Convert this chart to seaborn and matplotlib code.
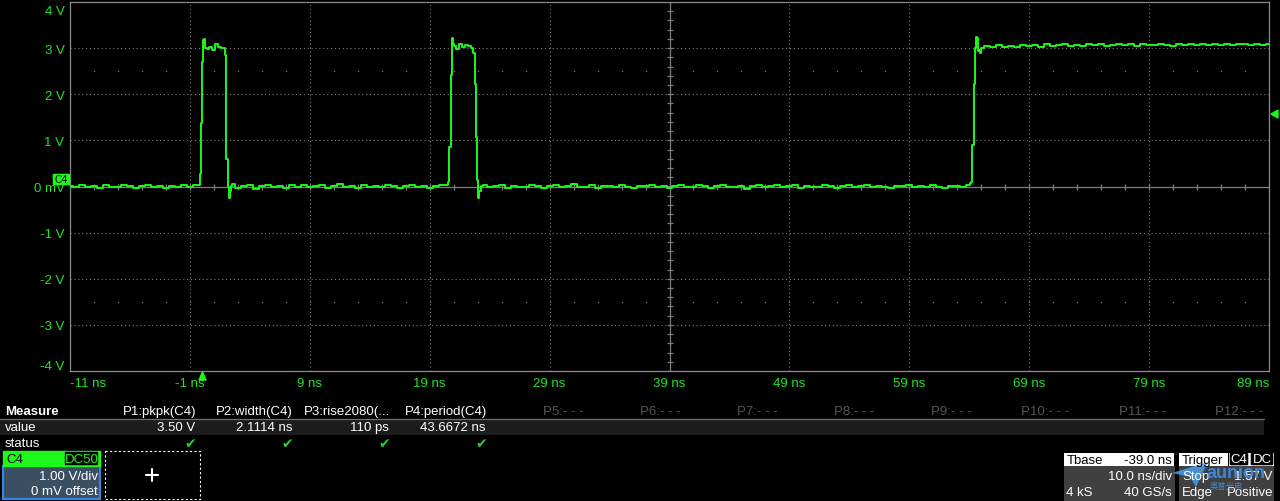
import numpy as np
import pandas as pd
import matplotlib
matplotlib.use("Agg")
import matplotlib.pyplot as plt
import matplotlib.patches as mpatches
import matplotlib.transforms as mtrans
import seaborn as sns

sns.set_style("dark")
plt.rcParams['font.family'] = ['Liberation Sans', 'DejaVu Sans', 'Noto Sans CJK SC']

# ---- axis labels ----
x_ticks = [-11, -1, 9, 19, 29, 39, 49, 59, 69, 79, 89]
x_labels = ['-11 ns', '-1 ns', '9 ns', '19 ns', '29 ns', '39 ns', '49 ns',
            '59 ns', '69 ns', '79 ns', '89 ns']
y_ticks = [4, 3, 2, 1, 0, -1, -2, -3, -4]
y_labels = ['4 V', '3 V', '2 V', '1 V', '0 mV', '-1 V', '-2 V', '-3 V', '-4 V']

# ---- trace (ns, V) ----
# flat parts sampled every 0.5 ns
base_a_start = -11.0
base_a = [0.01, -0.02, 0.03, -0.01, 0.02, -0.03, 0.04, 0.0, -0.02, 0.03, 0.01,
          -0.03, 0.02, 0.04, -0.01, 0.01, -0.03, 0.02, 0.0, 0.03, -0.02, 0.04]
base_b_start = 2.5
base_b = [0.05, -0.03, 0.02, 0.04, -0.05, 0.01, 0.03, -0.02, 0.02, -0.04, 0.03, 0.0,
          0.04, -0.02, 0.01, 0.03, -0.03, 0.02, 0.05, -0.01, 0.02, -0.03, 0.03, 0.0,
          0.02, -0.02, 0.04, 0.01, -0.03, 0.02, 0.03, -0.01, 0.02, -0.04, 0.01, 0.03]
base_c_start = 23.5
base_c = [0.03, -0.02, 0.01, 0.04, -0.03, 0.02, 0.0, -0.02, 0.03, 0.01,
          -0.04, 0.02, 0.03, -0.01, 0.02, 0.05, -0.02, 0.0, 0.03, -0.03,
          0.01, 0.02, -0.02, 0.04, 0.0, -0.03, 0.02, 0.01, 0.03, -0.02,
          0.02, -0.04, 0.01, 0.03, 0.0, -0.02, 0.04, 0.01, -0.03, 0.02,
          0.03, -0.01, 0.0, 0.02, -0.05, 0.01, 0.03, -0.02, 0.02, 0.04,
          -0.02, 0.01, 0.03, -0.03, 0.02, 0.0, -0.02, 0.03, 0.01, -0.04,
          0.02, 0.03, -0.01, 0.01, 0.04, -0.02, 0.02, 0.0, -0.03, 0.02,
          0.01, 0.03, -0.02, 0.02, -0.01, 0.04, 0.0, -0.03, 0.02, 0.01,
          -0.02, 0.03]
top_d_start = 65.0
top_d = [3.0, 3.04, 3.02, 3.06, 3.03, 3.05, 3.02, 3.07, 3.04, 3.06,
         3.03, 3.08, 3.05, 3.06, 3.09, 3.05, 3.07, 3.04, 3.08, 3.06,
         3.09, 3.05, 3.07, 3.1, 3.06, 3.08, 3.05, 3.09, 3.07, 3.06,
         3.1, 3.07, 3.05, 3.08, 3.06, 3.09, 3.07, 3.1, 3.06, 3.08,
         3.07, 3.09, 3.06, 3.1, 3.08, 3.07, 3.09, 3.06, 3.08]

# edges and pulse tops
pulse1_t = [-0.17, -0.08, 0.0, 0.08, 0.17, 0.25, 0.33, 0.5, 0.75, 1.0, 1.25, 1.5,
            1.75, 1.9, 1.97, 2.0, 2.08, 2.22, 2.27, 2.36, 2.39, 2.47]
pulse1_v = [0.03, 0.28, 1.37, 2.7, 3.17, 3.2, 3.0, 2.98, 3.02, 2.97, 3.08, 3.03,
            3.0, 3.01, 2.85, 1.8, 0.6, 0.0, -0.26, -0.26, -0.1, 0.02]
pulse2_t = [20.5, 20.58, 20.69, 20.78, 20.86, 20.94, 21.02, 21.1, 21.35, 21.6, 21.85,
            22.1, 22.35, 22.6, 22.69, 22.81, 22.89, 22.97, 23.02, 23.12, 23.17, 23.31]
pulse2_v = [0.04, 0.1, 0.86, 2.41, 3.03, 3.21, 3.1, 3.05, 2.98, 3.08, 3.02,
            3.06, 3.04, 3.0, 2.9, 2.23, 1.08, 0.14, -0.26, -0.26, -0.1, 0.02]
rise3_t = [64.1, 64.17, 64.33, 64.44, 64.53, 64.61, 64.72, 64.78, 64.86, 64.92]
rise3_v = [0.08, 0.1, 0.9, 2.23, 3.0, 3.25, 3.22, 2.93, 2.97, 2.9]

trig_level = 1.57


def flat(start, vals):
    return [start + 0.5 * i for i in range(len(vals))], list(vals)


parts = [flat(base_a_start, base_a), (pulse1_t, pulse1_v),
         flat(base_b_start, base_b), (pulse2_t, pulse2_v),
         flat(base_c_start, base_c), (rise3_t, rise3_v),
         flat(top_d_start, top_d)]
trace = pd.DataFrame({'t': sum([p[0] for p in parts], []),
                      'v': sum([p[1] for p in parts], [])})

GREEN = '#1cf71c'
LABEL = '#22e622'
GRID = '#7c7c7c'

fig = plt.figure(figsize=(12.8, 5.02), dpi=100, facecolor='black')
ax = fig.add_axes([70 / 1280, 1 - 372 / 502, 1199 / 1280, 369 / 502])
ax.set_facecolor('black')

# grid: dotted divisions, solid centre cross with small ticks
for t in x_ticks[1:-1]:
    if t != 39:
        ax.axvline(t, color=GRID, lw=0.8, ls=(0, (1, 2.5)), zorder=1)
for v in y_ticks[1:-1]:
    if v != 0:
        ax.axhline(v, color=GRID, lw=0.8, ls=(0, (1, 2.5)), zorder=1)
ax.axvline(39, color=GRID, lw=0.9, zorder=1)
ax.axhline(0, color=GRID, lw=0.9, zorder=1)
ax.plot(np.arange(-11, 89.1, 2), np.zeros(51), ls='none', marker='|',
        ms=4, mew=0.9, color=GRID, zorder=1)
ax.plot(np.full(41, 39), np.arange(-4, 4.01, 0.2), ls='none', marker='_',
        ms=5, mew=0.9, color=GRID, zorder=1)
for v in (2.5, -2.5):
    ax.plot(np.arange(-9, 89, 2), np.full(49, v), ls='none', marker='s',
            ms=0.9, mew=0, color=GRID, zorder=1)

sns.lineplot(data=trace, x='t', y='v', ax=ax, color=GREEN, lw=1.4,
             estimator=None, sort=False, drawstyle='steps-mid', zorder=3)

ax.set_xlim(-11, 89)
ax.set_ylim(-4, 4)
ax.set_xticks(x_ticks)
ax.set_xticklabels(x_labels)
ax.set_yticks(y_ticks)
ax.set_yticklabels(y_labels)
ax.tick_params(length=0, colors=LABEL, labelsize=9.5)
ax.tick_params(axis='x', pad=4)
ax.tick_params(axis='y', pad=4)
xl = ax.get_xticklabels()
xl[0].set_ha('left')
xl[-1].set_ha('right')
yl = ax.get_yticklabels()
yl[0].set_transform(yl[0].get_transform() +
                    mtrans.ScaledTranslation(0, -8 / 100, fig.dpi_scale_trans))
yl[-1].set_transform(yl[-1].get_transform() +
                     mtrans.ScaledTranslation(0, 6 / 100, fig.dpi_scale_trans))
ax.set_xlabel('')
ax.set_ylabel('')
ax.grid(False)
for s in ax.spines.values():
    s.set_color('#8a8a8a')
    s.set_linewidth(0.9)

# overlay in pixel coordinates for the panel below and the markers
ov = fig.add_axes([0, 0, 1, 1], facecolor='none')
ov.set_xlim(0, 1280)
ov.set_ylim(502, 0)
ov.axis('off')

# channel tag and markers
ov.add_patch(mpatches.FancyBboxPatch((54, 176), 15, 9, boxstyle='round,pad=0.6',
                                     fc=GREEN, ec=GREEN))
ov.text(61.5, 180.5, 'C4', color='black', fontsize=7.5, ha='center', va='center')
ov.add_patch(mpatches.Polygon([(199, 381), (206, 381), (202.5, 373)], color=GREEN))
ty = 187.5 - trig_level * 46.125
ov.add_patch(mpatches.Polygon([(1278, ty - 4), (1278, ty + 4), (1271, ty)], color=GREEN))

# measurement table
fs = 9.5
ov.text(5, 412, 'Measure', color='white', fontsize=fs, fontweight='bold', va='center')
meas_names = ['P1:pkpk(C4)', 'P2:width(C4)', 'P3:rise2080(...', 'P4:period(C4)',
              'P5:- - -', 'P6:- - -', 'P7:- - -', 'P8:- - -', 'P9:- - -',
              'P10:- - -', 'P11:- - -', 'P12:- - -']
meas_values = ['3.50 V', '2.1114 ns', '110 ps', '43.6672 ns']
col_right = [196 + 97 * i for i in range(12)]
ov.add_patch(mpatches.Rectangle((0, 420), 1264, 16, fc='#1c1c1c', ec='none'))
ov.plot([0, 1264], [419.5, 419.5], color='#707070', lw=0.9)
for i, name in enumerate(meas_names):
    c = 'white' if i < 4 else '#555555'
    ov.text(col_right[i], 412, name, color=c, fontsize=fs, ha='right', va='center')
for i, val in enumerate(meas_values):
    ov.text(col_right[i] - 1, 428, val, color='white', fontsize=fs, ha='right', va='center')
    ov.text(col_right[i] - 6, 444, '\u2714', color='#2ccf2c', fontsize=10,
            ha='center', va='center', family='DejaVu Sans')
ov.text(5, 428, 'value', color='white', fontsize=fs, va='center')
ov.text(5, 444, 'status', color='white', fontsize=fs, va='center')

# channel box
ov.add_patch(mpatches.Rectangle((3, 467), 97, 33, fc='#3b4f63', ec='#2f8ae4', lw=1.5))
ov.add_patch(mpatches.Rectangle((3, 452), 97, 15, fc=GREEN, ec=GREEN))
ov.add_patch(mpatches.FancyBboxPatch((66, 454), 31, 11, boxstyle='round,pad=0.5',
                                     fc='black', ec='black'))
ov.text(6, 460, 'C4', color='black', fontsize=fs, va='center')
ov.text(81.5, 460, 'DC50', color=GREEN, fontsize=fs, ha='center', va='center')
ov.text(98, 477, '1.00 V/div', color='white', fontsize=fs, ha='right', va='center')
ov.text(98, 492, '0 mV offset', color='white', fontsize=fs, ha='right', va='center')

# empty slot
ov.add_patch(mpatches.Rectangle((105, 452), 95, 48, fc='none', ec='white',
                                lw=0.8, ls=(0, (2, 2))))
ov.plot([146, 158], [476, 476], color='white', lw=1.5)
ov.plot([152, 152], [470, 482], color='white', lw=1.5)

# timebase box
ov.add_patch(mpatches.Rectangle((1064, 467), 111, 35, fc='#404040', ec='none'))
ov.add_patch(mpatches.Rectangle((1064, 454), 110, 13, fc='white', ec='none'))
ov.text(1067, 461, 'Tbase', color='black', fontsize=fs, va='center')
ov.text(1172, 461, '-39.0 ns', color='black', fontsize=fs, ha='right', va='center')
ov.text(1172, 477, '10.0 ns/div', color='white', fontsize=fs, ha='right', va='center')
ov.text(1066, 493, '4 kS', color='white', fontsize=fs, va='center')
ov.text(1172, 493, '40 GS/s', color='white', fontsize=fs, ha='right', va='center')

# trigger box
ov.add_patch(mpatches.Rectangle((1179, 467), 95, 35, fc='#404040', ec='none'))
ov.add_patch(mpatches.Rectangle((1179, 454), 49, 13, fc='white', ec='none'))
ov.add_patch(mpatches.Rectangle((1229, 454), 45, 13, fc='white', ec='none'))
ov.add_patch(mpatches.FancyBboxPatch((1231, 455), 16, 10, boxstyle='round,pad=0.6',
                                     fc='black', ec='black'))
ov.add_patch(mpatches.FancyBboxPatch((1252, 455), 20, 10, boxstyle='round,pad=0.6',
                                     fc='black', ec='black'))
ov.text(1182, 461, 'Trigger', color='black', fontsize=fs, va='center')
ov.text(1239, 460, 'C4', color='white', fontsize=fs, ha='center', va='center')
ov.text(1262, 460, 'DC', color='white', fontsize=fs, ha='center', va='center')
ov.text(1182, 477, 'Stop', color='white', fontsize=fs, va='center')
ov.text(1272, 477, '1.57 V', color='white', fontsize=fs, ha='right', va='center')
ov.text(1182, 493, 'Edge', color='white', fontsize=fs, va='center')
ov.text(1273, 493, 'Positive', color='white', fontsize=fs, ha='right', va='center')

# watermark drawn over the trigger box, as on the screen
ov.add_patch(mpatches.Polygon([(1172, 474), (1208, 463), (1196, 488), (1190, 478)],
                              fc='#4a9be8', ec='none', alpha=0.85))
ov.text(1236, 474, 'aunion', color='#3f8fe6', fontsize=13, fontweight='bold',
        ha='center', va='center', alpha=0.9)
ov.text(1226, 486, '奥普光电', color='#3f8fe6', fontsize=6, ha='center', va='center',
        family=['Noto Sans CJK SC'], alpha=0.9)

fig.savefig('out.png', dpi=100, facecolor='black')
